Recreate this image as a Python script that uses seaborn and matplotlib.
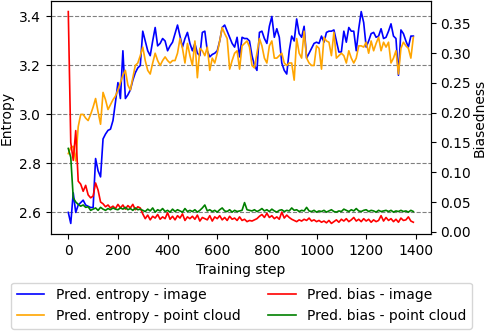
import numpy as np
import pandas as pd
import seaborn as sns
import matplotlib
matplotlib.use("Agg")
import matplotlib.pyplot as plt

# training steps (logged every 10 steps)
steps = np.arange(0, 1400, 10)

# Pred. entropy - image
ent_image = [
    2.60, 2.555, 2.68, 2.60, 2.63, 2.64, 2.65, 2.63, 2.625, 2.62,
    2.62, 2.82, 2.77, 2.745, 2.90, 2.92, 2.935, 2.94, 2.975, 3.05,
    3.13, 3.065, 3.26, 3.065, 3.08, 3.10, 3.14, 3.17, 3.19, 3.20,
    3.34, 3.30, 3.26, 3.24, 3.30, 3.355, 3.28, 3.29, 3.31, 3.30,
    3.26, 3.28, 3.295, 3.33, 3.365, 3.32, 3.275, 3.31, 3.335, 3.29,
    3.26, 3.29, 3.25, 3.24, 3.335, 3.34, 3.26, 3.235, 3.245, 3.25,
    3.26, 3.30, 3.355, 3.365, 3.34, 3.315, 3.29, 3.275, 3.315, 3.235,
    3.315, 3.31, 3.31, 3.30, 3.24, 3.20, 3.18, 3.335, 3.34, 3.31,
    3.29, 3.36, 3.40, 3.315, 3.35, 3.315, 3.21, 3.18, 3.165, 3.26,
    3.32, 3.30, 3.39, 3.33, 3.315, 3.36, 3.23, 3.25, 3.27, 3.29,
    3.295, 3.29, 3.32, 3.295, 3.335, 3.34, 3.34, 3.345, 3.30, 3.255,
    3.255, 3.34, 3.295, 3.355, 3.34, 3.34, 3.26, 3.35, 3.42, 3.375,
    3.275, 3.30, 3.33, 3.335, 3.315, 3.32, 3.35, 3.31, 3.315, 3.34,
    3.37, 3.32, 3.31, 3.16, 3.345, 3.33, 3.30, 3.275, 3.32, 3.32,
]

# Pred. entropy - point cloud
ent_pc = [
    2.84, 2.865, 2.87, 2.81, 2.95, 3.00, 3.00, 2.985, 2.975, 3.00,
    3.03, 3.065, 3.01, 2.96, 3.09, 3.06, 3.02, 3.04, 3.06, 3.075,
    3.10, 3.13, 3.16, 3.18, 3.12, 3.10, 3.15, 3.20, 3.21, 3.24,
    3.275, 3.22, 3.18, 3.165, 3.21, 3.25, 3.22, 3.20, 3.22, 3.235,
    3.22, 3.21, 3.22, 3.22, 3.25, 3.31, 3.27, 3.21, 3.29, 3.24,
    3.20, 3.30, 3.15, 3.27, 3.26, 3.24, 3.275, 3.18, 3.23, 3.21,
    3.25, 3.30, 3.355, 3.33, 3.31, 3.185, 3.22, 3.25, 3.26, 3.185,
    3.28, 3.29, 3.30, 3.275, 3.20, 3.19, 3.25, 3.31, 3.28, 3.23,
    3.21, 3.28, 3.30, 3.23, 3.23, 3.24, 3.25, 3.21, 3.20, 3.21,
    3.21, 3.14, 3.31, 3.25, 3.23, 3.34, 3.23, 3.21, 3.20, 3.20,
    3.28, 3.27, 3.185, 3.315, 3.30, 3.295, 3.24, 3.335, 3.23, 3.24,
    3.25, 3.24, 3.21, 3.26, 3.23, 3.21, 3.23, 3.28, 3.28, 3.275,
    3.295, 3.25, 3.30, 3.26, 3.29, 3.315, 3.26, 3.295, 3.275, 3.295,
    3.21, 3.23, 3.26, 3.165, 3.27, 3.295, 3.28, 3.27, 3.23, 3.315,
]

# Pred. bias - image
bias_image = [
    0.37, 0.15, 0.12, 0.17, 0.085, 0.08, 0.068, 0.078, 0.062, 0.057,
    0.06, 0.082, 0.07, 0.05, 0.047, 0.042, 0.045, 0.040, 0.043, 0.039,
    0.046, 0.040, 0.045, 0.038, 0.044, 0.040, 0.046, 0.037, 0.042, 0.040,
    0.030, 0.022, 0.028, 0.020, 0.026, 0.023, 0.029, 0.021, 0.025, 0.022,
    0.032, 0.021, 0.026, 0.020, 0.027, 0.023, 0.030, 0.019, 0.025, 0.022,
    0.026, 0.021, 0.028, 0.018, 0.024, 0.022, 0.020, 0.027, 0.018, 0.025,
    0.022, 0.027, 0.020, 0.024, 0.019, 0.026, 0.021, 0.023, 0.019, 0.025,
    0.019, 0.021, 0.017, 0.019, 0.018, 0.020, 0.022, 0.026, 0.029, 0.024,
    0.031, 0.024, 0.027, 0.022, 0.025, 0.021, 0.033, 0.023, 0.028, 0.024,
    0.021, 0.019, 0.017, 0.020, 0.018, 0.021, 0.019, 0.023, 0.018, 0.020,
    0.017, 0.019, 0.016, 0.018, 0.015, 0.019, 0.014, 0.017, 0.020, 0.016,
    0.021, 0.018, 0.022, 0.017, 0.020, 0.024, 0.018, 0.021, 0.017, 0.022,
    0.018, 0.021, 0.016, 0.020, 0.017, 0.019, 0.027, 0.018, 0.024, 0.019,
    0.022, 0.017, 0.021, 0.016, 0.023, 0.019, 0.020, 0.025, 0.018, 0.016,
]

# Pred. bias - point cloud
bias_pc = [
    0.14, 0.125, 0.057, 0.050, 0.046, 0.043, 0.045, 0.041, 0.042, 0.036,
    0.038, 0.040, 0.036, 0.041, 0.038, 0.036, 0.039, 0.037, 0.040, 0.038,
    0.037, 0.040, 0.038, 0.041, 0.037, 0.039, 0.036, 0.040, 0.037, 0.038,
    0.036, 0.034, 0.038, 0.035, 0.040, 0.033, 0.037, 0.035, 0.039, 0.034,
    0.036, 0.033, 0.038, 0.034, 0.037, 0.035, 0.033, 0.039, 0.034, 0.036,
    0.034, 0.037, 0.033, 0.036, 0.040, 0.045, 0.035, 0.037, 0.034, 0.036,
    0.033, 0.037, 0.040, 0.035, 0.034, 0.037, 0.033, 0.036, 0.034, 0.035,
    0.036, 0.049, 0.037, 0.036, 0.035, 0.037, 0.034, 0.036, 0.039, 0.035,
    0.037, 0.034, 0.038, 0.035, 0.033, 0.036, 0.037, 0.034, 0.036, 0.035,
    0.040, 0.036, 0.037, 0.034, 0.036, 0.035, 0.041, 0.035, 0.034, 0.036,
    0.033, 0.035, 0.034, 0.036, 0.033, 0.035, 0.037, 0.034, 0.033, 0.035,
    0.034, 0.038, 0.036, 0.034, 0.037, 0.035, 0.039, 0.035, 0.034, 0.036,
    0.037, 0.034, 0.036, 0.035, 0.033, 0.036, 0.034, 0.035, 0.036, 0.034,
    0.036, 0.033, 0.035, 0.034, 0.036, 0.034, 0.035, 0.033, 0.036, 0.034,
]

fig, ax = plt.subplots(figsize=(4.86, 3.31), dpi=100)
fig.subplots_adjust(left=0.105, right=0.886, top=0.997, bottom=0.293)

sns.lineplot(x=steps, y=ent_image, ax=ax, color="blue", lw=1.2,
             label="Pred. entropy - image")
sns.lineplot(x=steps, y=ent_pc, ax=ax, color="orange", lw=1.2,
             label="Pred. entropy - point cloud")
ax.set_xlabel("Training step")
ax.set_ylabel("Entropy")
ax.yaxis.grid(True, linestyle="--", color="gray", lw=0.8)

ax2 = ax.twinx()
sns.lineplot(x=steps, y=bias_image, ax=ax2, color="red", lw=1.2,
             label="Pred. bias - image")
sns.lineplot(x=steps, y=bias_pc, ax=ax2, color="green", lw=1.2,
             label="Pred. bias - point cloud")
ax2.set_ylabel("Biasedness", labelpad=1)

h1, l1 = ax.get_legend_handles_labels()
h2, l2 = ax2.get_legend_handles_labels()
ax.get_legend().remove()
ax2.get_legend().remove()
fig.legend(h1 + h2, l1 + l2, ncol=2, loc="upper center",
           bbox_to_anchor=(0.497, 0.167))

fig.savefig("out.png", dpi=100)
